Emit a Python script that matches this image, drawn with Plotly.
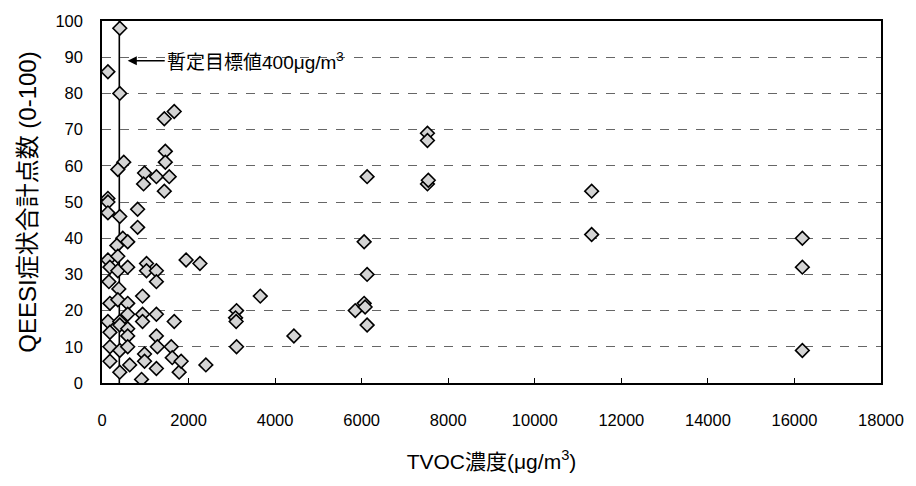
import plotly.graph_objects as go

# TVOC concentration (ug/m3) and QEESI total symptom score
tvoc = [
    137, 137, 137, 137, 137, 160, 183, 183, 137, 183, 183, 183,
    411, 411, 503, 366, 411, 480, 343, 366, 366, 389, 366, 411, 411, 411, 411,
    594, 594, 594, 594, 594, 594, 594, 640,
    823, 823,
    983, 960, 1029, 1029, 937, 937, 937, 983, 983, 914,
    1257, 1257, 1257, 1257, 1257, 1257, 1280,
    1463, 1463, 1440, 1440, 1554, 1669, 1669, 1600, 1623, 1783, 1829,
    1943, 2263, 2400,
    3109, 3086, 3100, 3109,
    3657, 4434,
    5851, 6057, 6080, 6126, 6057, 6126, 6126,
    7520, 7520, 7520, 7540,
    11314, 11314,
    16183, 16183, 16183,
]
score = [
    86, 51, 50, 47, 34, 28, 32, 22, 17, 14, 10, 6,
    98, 80, 61, 59, 46, 40, 38, 35, 31, 26, 23, 17, 16, 9, 3,
    39, 32, 22, 19, 15, 13, 10, 5,
    48, 43,
    58, 55, 33, 31, 24, 19, 17, 8, 6, 1,
    57, 31, 28, 19, 13, 4, 10,
    64, 61, 73, 53, 57, 75, 17, 10, 7, 3, 6,
    34, 33, 5,
    20, 18, 17, 10,
    24, 13,
    20, 22, 21, 16, 39, 30, 57,
    69, 67, 55, 56,
    53, 41,
    40, 32, 9,
]

target_x = 400
target_label = "暫定目標値400μg/m<sup>3</sup>"
x_ticks = list(range(0, 18001, 2000))
x_ticktext = [str(v) for v in x_ticks]
y_ticks = list(range(0, 101, 10))

base = "Liberation Sans, Arial, Noto Sans CJK JP, sans-serif"

fig = go.Figure()
fig.add_trace(go.Scatter(
    x=tvoc, y=score, mode="markers",
    marker=dict(symbol="diamond", size=10.5, color="#d4d4d4",
                line=dict(color="black", width=1.6)),
    showlegend=False,
))

fig.add_shape(type="line", xref="x", yref="y", x0=target_x, x1=target_x,
              y0=0, y1=100, line=dict(color="black", width=1.6), layer="below")

fig.add_annotation(x=594, y=89, xref="x", yref="y", text=target_label,
                   showarrow=True, ax=37, ay=0, xanchor="left",
                   arrowhead=2, arrowsize=1.3, arrowwidth=1.4, arrowcolor="black",
                   font=dict(family=base, size=19, color="black"))

fig.update_layout(
    width=916, height=486,
    margin=dict(l=102, r=27, t=16, b=103),
    paper_bgcolor="white", plot_bgcolor="white",
    font=dict(family=base, size=16.5, color="black"),
)
fig.update_xaxes(
    range=[0, 18000], tickvals=x_ticks, ticktext=x_ticktext,
    ticks="inside", ticklen=5, tickcolor="black",
    showgrid=False, zeroline=False, showline=True, linecolor="black", linewidth=1.5,
    mirror=True, ticklabelstandoff=21,
    title=dict(text="TVOC濃度(μg/m<sup>3</sup>)", font=dict(size=21), standoff=27),
)
fig.update_yaxes(
    range=[0, 100], tickvals=y_ticks, ticks="", showgrid=True, gridcolor="#666666",
    griddash="dash", gridwidth=1, zeroline=False, showline=True, linecolor="black",
    linewidth=1.5, mirror=True, ticklabelstandoff=14,
    title=dict(text="QEESI症状合計点数 (0-100)", font=dict(size=24), standoff=12),
)

fig.write_html("out.html")
